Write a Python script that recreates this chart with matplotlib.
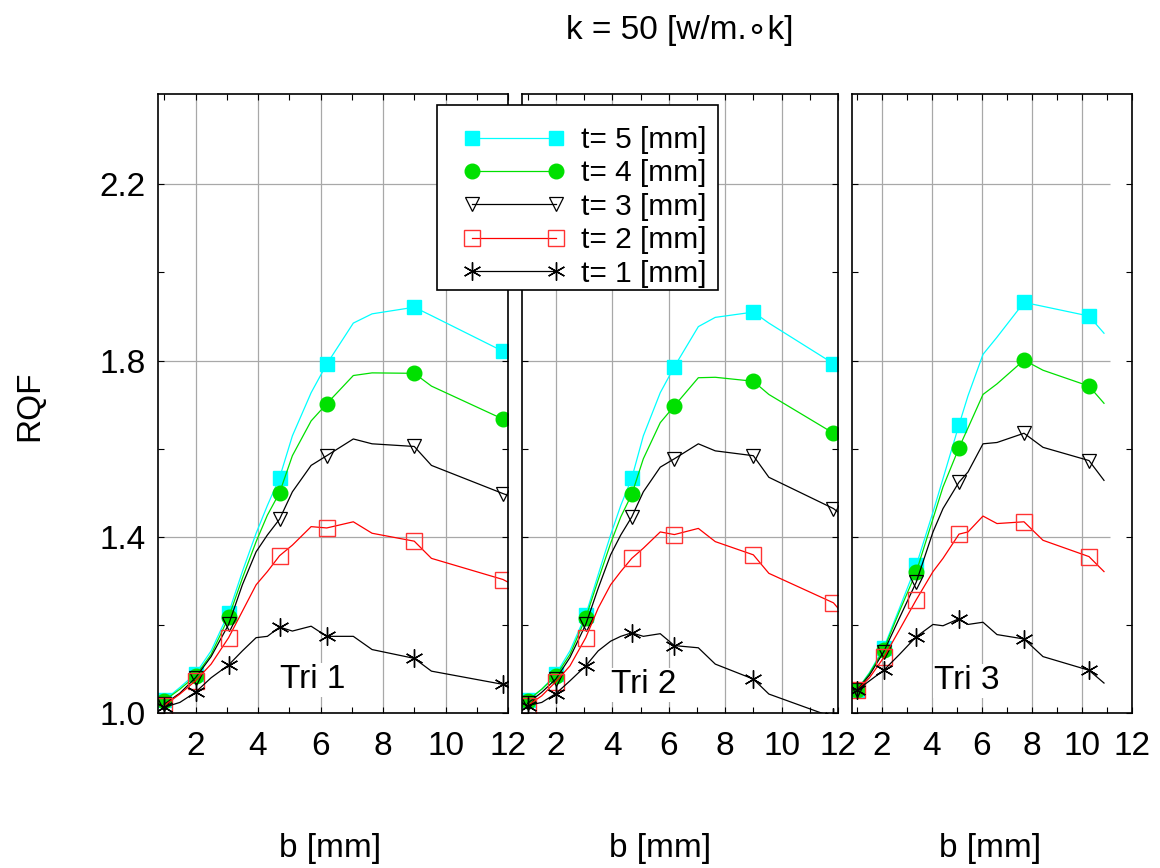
import matplotlib
matplotlib.use('Agg')
import matplotlib.pyplot as plt
from matplotlib.patches import Rectangle
from matplotlib.ticker import FixedLocator

plt.rcParams['font.family'] = ['Liberation Sans', 'DejaVu Sans']

# ---------------- data ----------------
title_text = 'k = 50 [w/m.\u2218k]'
y_label = 'RQF'
x_label = 'b [mm]'
series_labels = ['t= 5 [mm]', 't= 4 [mm]', 't= 3 [mm]', 't= 2 [mm]', 't= 1 [mm]']
panel_labels = ['Tri 1', 'Tri 2', 'Tri 3']
x_ticks = [2, 4, 6, 8, 10, 12]
y_ticks = [1.0, 1.4, 1.8, 2.2]

# Tri 1
b_tri1 = [1.0, 1.5, 2.0, 2.5, 3.06, 3.5, 3.94, 4.3, 4.69, 5.1, 5.7, 6.2, 7.05, 7.65, 9.0, 9.55, 11.84, 12.0]
marks_tri1 = [0, 2, 4, 8, 11, 14, 16]
tri1_t5 = [1.029, 1.058, 1.089, 1.141, 1.227, 1.321, 1.408, 1.471, 1.534, 1.629, 1.727, 1.792, 1.885, 1.906, 1.921, 1.902, 1.821, 1.816]
tri1_t4 = [1.028, 1.054, 1.084, 1.133, 1.217, 1.306, 1.389, 1.449, 1.500, 1.584, 1.663, 1.702, 1.766, 1.772, 1.771, 1.742, 1.667, 1.663]
tri1_t3 = [1.020, 1.045, 1.080, 1.128, 1.201, 1.291, 1.366, 1.404, 1.440, 1.502, 1.562, 1.584, 1.622, 1.611, 1.605, 1.562, 1.498, 1.494]
tri1_t2 = [1.017, 1.043, 1.073, 1.111, 1.171, 1.231, 1.291, 1.321, 1.357, 1.381, 1.423, 1.420, 1.434, 1.408, 1.390, 1.351, 1.303, 1.297]
tri1_t1 = [1.013, 1.024, 1.047, 1.080, 1.109, 1.141, 1.171, 1.174, 1.195, 1.186, 1.197, 1.174, 1.174, 1.144, 1.124, 1.095, 1.065, 1.062]

# Tri 2
b_tri2 = [1.0, 1.5, 2.0, 2.5, 3.06, 3.5, 3.94, 4.3, 4.69, 5.1, 5.7, 6.2, 7.05, 7.65, 9.0, 9.55, 11.84, 12.0]
marks_tri2 = [0, 2, 4, 8, 11, 14, 16]
tri2_t5 = [1.029, 1.054, 1.088, 1.141, 1.223, 1.314, 1.404, 1.471, 1.533, 1.629, 1.727, 1.786, 1.877, 1.898, 1.910, 1.885, 1.793, 1.789]
tri2_t4 = [1.028, 1.054, 1.084, 1.133, 1.216, 1.302, 1.385, 1.445, 1.496, 1.577, 1.659, 1.697, 1.761, 1.762, 1.753, 1.723, 1.635, 1.629]
tri2_t3 = [1.022, 1.047, 1.077, 1.126, 1.201, 1.283, 1.359, 1.404, 1.445, 1.502, 1.558, 1.577, 1.611, 1.595, 1.584, 1.535, 1.464, 1.456]
tri2_t2 = [1.017, 1.039, 1.071, 1.107, 1.171, 1.238, 1.291, 1.321, 1.351, 1.374, 1.411, 1.405, 1.419, 1.389, 1.359, 1.317, 1.250, 1.238]
tri2_t1 = [1.017, 1.024, 1.044, 1.073, 1.107, 1.141, 1.163, 1.174, 1.182, 1.174, 1.180, 1.153, 1.148, 1.111, 1.077, 1.043, 0.990, 0.986]

# Tri 3
b_tri3 = [1.0, 1.5, 2.07, 2.7, 3.37, 4.04, 4.44, 5.08, 5.44, 6.04, 6.6, 7.68, 8.44, 10.28, 10.88]
marks_tri3 = [0, 2, 4, 7, 11, 13]
tri3_t5 = [1.052, 1.092, 1.148, 1.238, 1.335, 1.456, 1.532, 1.654, 1.720, 1.814, 1.853, 1.932, 1.923, 1.901, 1.862]
tri3_t4 = [1.052, 1.090, 1.144, 1.231, 1.320, 1.441, 1.513, 1.602, 1.647, 1.723, 1.747, 1.801, 1.778, 1.742, 1.703]
tri3_t3 = [1.052, 1.086, 1.139, 1.216, 1.297, 1.411, 1.464, 1.524, 1.547, 1.611, 1.614, 1.635, 1.603, 1.573, 1.528]
tri3_t2 = [1.052, 1.080, 1.126, 1.189, 1.257, 1.321, 1.351, 1.406, 1.411, 1.447, 1.430, 1.434, 1.392, 1.355, 1.321]
tri3_t1 = [1.052, 1.073, 1.097, 1.133, 1.173, 1.201, 1.198, 1.214, 1.201, 1.206, 1.178, 1.168, 1.128, 1.097, 1.068]

panels = [
    (b_tri1, marks_tri1, [tri1_t5, tri1_t4, tri1_t3, tri1_t2, tri1_t1]),
    (b_tri2, marks_tri2, [tri2_t5, tri2_t4, tri2_t3, tri2_t2, tri2_t1]),
    (b_tri3, marks_tri3, [tri3_t5, tri3_t4, tri3_t3, tri3_t2, tri3_t1]),
]

# ---------------- styles ----------------
W, H = 1160, 868
styles = [
    dict(color='#00ffff', marker='s', ms=10.5, mfc='#00ffff', mec='#00ffff', mew=1.0),
    dict(color='#00e000', marker='o', ms=10.5, mfc='#00e000', mec='#00e000', mew=1.0),
    dict(color='black', marker='v', ms=10.5, mfc='none', mec='black', mew=0.9),
    dict(color='#ff0000', marker='s', ms=11, mfc='none', mec='#ff3333', mew=1.0),
    dict(color='black', marker=(6, 2, 0), ms=13, mfc='none', mec='black', mew=1.0),
]
grid_color = '#a8a8a8'
axes_px = [(158, 350), (522, 316), (852, 280)]  # left, width in pixels
ax_bottom_px, ax_top_px = 713, 94
label_x_px = [330, 660, 990]
tri_pos = [(5.75, 1.075), (5.12, 1.064), (5.39, 1.073)]
fs = 24

fig = plt.figure(figsize=(W / 100, H / 100), dpi=100)
fig.patch.set_facecolor('white')

handles = None
for i, ((bx, marks, ys), (lpx, wpx)) in enumerate(zip(panels, axes_px)):
    ax = fig.add_axes([lpx / W, (H - ax_bottom_px) / H, wpx / W, (ax_bottom_px - ax_top_px) / H])
    lines = []
    for y, st, lab in zip(ys, styles, series_labels):
        ln, = ax.plot(bx, y, lw=0.9, markevery=marks, label=lab, **st)
        lines.append(ln)
    if handles is None:
        handles = lines
    ax.set_xlim(0.8, 12.0)
    ax.set_ylim(1.0, 2.405)
    ax.xaxis.set_major_locator(FixedLocator(x_ticks))
    ax.xaxis.set_minor_locator(FixedLocator([1, 3, 5, 7, 9, 11]))
    ax.yaxis.set_major_locator(FixedLocator(y_ticks))
    ax.yaxis.set_minor_locator(FixedLocator([1.2, 1.6, 2.0]))
    ax.tick_params(which='both', direction='in', top=True, right=True, length=4, width=0.8,
                   labelsize=fs, pad=13)
    ax.tick_params(axis='y', pad=9)
    ax.set_xticklabels([str(t) for t in x_ticks])
    if i == 0:
        ax.set_yticklabels(['%.1f' % t for t in y_ticks])
    else:
        ax.set_yticklabels([])
    ax.set_axisbelow(True)
    ax.grid(True, axis='x', which='major', color=grid_color, lw=0.9)
    if i < 2:
        ax.grid(True, axis='y', which='major', color=grid_color, lw=0.9)
    else:
        ax.hlines(y_ticks[1:], 0.8, 11.1, colors=grid_color, lw=0.9, zorder=0.5)
    for sp in ax.spines.values():
        sp.set_linewidth(1.2)
    ax.text(tri_pos[i][0], tri_pos[i][1], panel_labels[i], fontsize=fs, ha='center', va='center',
            bbox=dict(facecolor='white', edgecolor='none', pad=1.0), zorder=3)
    fig.text(label_x_px[i] / W, 1 - 849 / H, x_label, fontsize=fs, ha='center', va='center')

fig.text(30 / W, 1 - 406 / H, y_label, fontsize=fs, rotation=90, ha='center', va='center')
fig.text(680 / W, 1 - 30 / H, title_text, fontsize=fs, ha='center', va='center')

# legend frame and entries
fig.patches.append(Rectangle((437 / W, 1 - 290 / H), (718 - 437) / W, (290 - 105) / H,
                             transform=fig.transFigure, facecolor='white', edgecolor='black',
                             lw=1.2, zorder=4))
leg = fig.legend(handles=handles, labels=series_labels, loc='upper left',
                 bbox_to_anchor=(463 / W, 1 - 126 / H), frameon=False, fontsize=21.5,
                 numpoints=2, handlelength=3.4, handletextpad=0.55, labelspacing=0.18,
                 borderpad=0, borderaxespad=0)
leg.set_zorder(5)

fig.savefig('out.png', dpi=100, facecolor='white')
